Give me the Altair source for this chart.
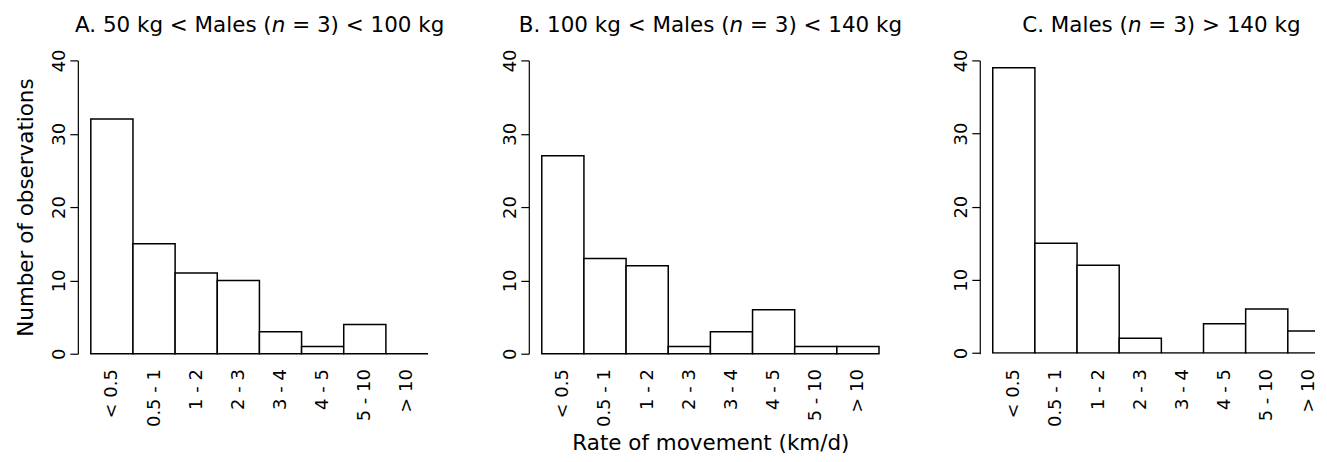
import json
import altair as alt
import pandas as pd

# ---------------- data ----------------
categories = ["< 0.5", "0.5 - 1", "1 - 2", "2 - 3", "3 - 4", "4 - 5", "5 - 10", "> 10"]
counts_a = [32, 15, 11, 10, 3, 1, 4, 0]
counts_b = [27, 13, 12, 1, 3, 6, 1, 1]
counts_c = [39, 15, 12, 2, 0, 4, 6, 3]

title_parts_a = ["A. 50 kg < Males (", "n", "= 3) < 100 kg"]
title_parts_b = ["B. 100 kg < Males (", "n", "= 3) < 140 kg"]
title_parts_c = ["C. Males (", "n", "= 3) > 140 kg"]

y_ticks = [0, 10, 20, 30, 40]
y_title = "Number of observations"
x_title = "Rate of movement (km/d)"

# ---------------- style / layout ----------------
FONT = "DejaVu Sans"
TITLE_SIZE = 21.5
LABEL_SIZE = 18
W = 364          # plot width of panels A and B
W_C = 336        # panel C is cut at the right edge, as in the reference
H = 294
STEP = 42.25     # bar width in px
GAP = 13         # gap between y axis and first bar
SPACING = 88

# DejaVu Sans advance widths (em) used to place the italic "n"
ADV = {" ": .318, ".": .318, "(": .390, ")": .390, "<": .838, ">": .838, "=": .838,
       "A": .684, "B": .686, "C": .698, "M": .863, "a": .613, "l": .278, "e": .615,
       "s": .521, "k": .579, "g": .635, "n": .634}
for d in "0123456789":
    ADV[d] = .636


def text_width(s, size):
    return sum(ADV.get(ch, 0.6) for ch in s) * size


def title_layers(parts, center):
    left, mid, right = parts
    sp = text_width(" ", TITLE_SIZE)
    wl = text_width(left, TITLE_SIZE)
    wm = text_width(mid, TITLE_SIZE)
    wr = text_width(right, TITLE_SIZE)
    start = center - (wl + wm + sp + wr) / 2
    p1 = start + wl
    p2 = p1 + wm + sp
    common = dict(baseline="alphabetic", font=FONT, fontSize=TITLE_SIZE, color="black")
    t1 = alt.Chart(pd.DataFrame({"t": [left]})).mark_text(align="right", **common).encode(
        text="t:N", x=alt.value(p1), y=alt.value(-28))
    t2 = alt.Chart(pd.DataFrame({"t": [mid]})).mark_text(align="left", fontStyle="italic", **common).encode(
        text="t:N", x=alt.value(p1), y=alt.value(-28))
    t3 = alt.Chart(pd.DataFrame({"t": [right]})).mark_text(align="left", **common).encode(
        text="t:N", x=alt.value(p2), y=alt.value(-28))
    return [t1, t2, t3]


label_expr = json.dumps(categories) + "[floor(datum.value)]"


def panel(counts, parts, width, show_ytitle, show_xtitle, clip=False):
    df = pd.DataFrame({
        "cat": categories,
        "count": counts,
        "x0": list(range(len(categories))),
        "x1": list(range(1, len(categories) + 1)),
    })
    lo = -GAP / STEP
    hi = (width - GAP) / STEP
    ymin = -0.1 if clip else 0
    xaxis = alt.Axis(
        values=[i + 0.5 for i in range(len(categories))],
        labelExpr=label_expr,
        labelAngle=270, labelAlign="right", labelBaseline="middle",
        labelPadding=15, ticks=False, tickSize=0, domain=False, grid=False,
        labelFont=FONT, labelFontSize=LABEL_SIZE, labelColor="black",
        labelFlush=False, labelOverlap=False,
        title=x_title if show_xtitle else "",
        titleFont=FONT, titleFontSize=TITLE_SIZE, titleFontWeight="normal",
        titleColor="black", titleY=96, titleBaseline="alphabetic",
    )
    yaxis = alt.Axis(
        values=y_ticks, grid=False,
        domainColor="black", domainWidth=1.2,
        tickColor="black", tickSize=8, tickWidth=1.2,
        labelAngle=270, labelAlign="center", labelBaseline="alphabetic",
        labelPadding=5, labelFont=FONT, labelFontSize=LABEL_SIZE, labelColor="black",
        labelFlush=False,
        title=y_title if show_ytitle else "",
        titleFont=FONT, titleFontSize=TITLE_SIZE, titleFontWeight="normal",
        titleColor="black", titleX=-45, titleBaseline="alphabetic",
    )
    bars = alt.Chart(df).mark_rect(
        fill="white", stroke="black", strokeWidth=1.5, clip=clip
    ).encode(
        x=alt.X("x0:Q", scale=alt.Scale(domain=[lo, hi], nice=False, zero=False), axis=xaxis),
        x2="x1:Q",
        y=alt.Y("count:Q", scale=alt.Scale(domain=[ymin, 40], nice=False, zero=False), axis=yaxis),
        y2=alt.datum(0),
    )
    center = GAP + 4 * STEP
    return alt.layer(bars, *title_layers(parts, center)).properties(width=width, height=H)


pa = panel(counts_a, title_parts_a, W, True, False)
pb = panel(counts_b, title_parts_b, W, False, True)
pc = panel(counts_c, title_parts_c, W_C, False, False, clip=True)

chart = alt.hconcat(pa, pb, pc, spacing=SPACING, bounds="flush").properties(
    padding={"left": 7, "top": 6, "right": 0, "bottom": 0},
    background="white",
).configure_view(stroke="transparent")

chart.save("out.html", embed_options={"renderer": "svg", "actions": False})
